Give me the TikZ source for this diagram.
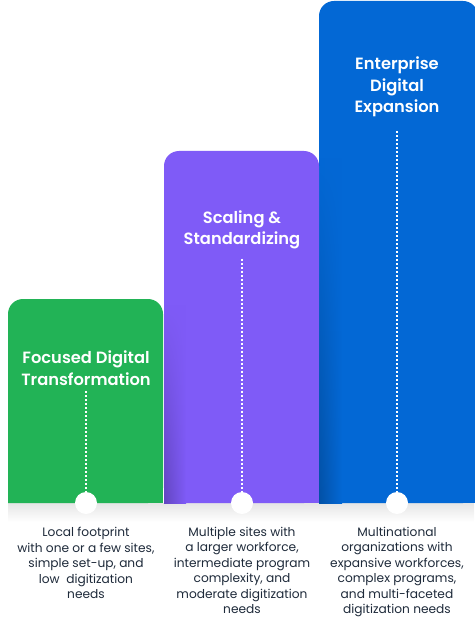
\documentclass[tikz,border=0pt]{standalone}
\usepackage{fontspec}
\setmainfont{Poppins}
\usetikzlibrary{fadings}
\definecolor{cgreen}{HTML}{22B356}
\definecolor{cpurple}{HTML}{7F5BF7}
\definecolor{cblue}{HTML}{0368D5}
\definecolor{ctext}{HTML}{1E2A3A}
\tikzset{
  bartitle/.style={text=white,font=\fontspec{Poppins SemiBold}\fontsize{16.3}{21.5}\selectfont,align=center,inner sep=0pt},
  desc/.style={text=ctext,font=\fontsize{12.2}{15.5}\selectfont,align=center,inner sep=0pt,anchor=north},
  dot/.style={circle,fill=white,minimum size=22pt,inner sep=0pt},
  dotline/.style={white,line width=1.2pt,dash pattern=on 2pt off 2pt},
}
\begin{document}
\begin{tikzpicture}[x=1pt,y=-1pt]
\useasboundingbox (0,0) rectangle (474,620);
\fill[white] (0,0) rectangle (474,620);
% bottom shadow
\shade[top color=black!10,bottom color=white] (8,503) rectangle (474,522);
% bars
\fill[cblue,rounded corners=15pt] (319,503) -- (319,1) -- (478,1) -- (478,503) [sharp corners]-- cycle;
\fill[cblue] (319,480) rectangle (478,503);
\fill[cpurple,rounded corners=15pt] (164,503) -- (164,151) -- (319,151) -- (319,503) [sharp corners]-- cycle;
\fill[cpurple] (164,480) rectangle (319,503);
\fill[cgreen,rounded corners=15pt] (8,503) -- (8,299) -- (163,299) -- (163,503) [sharp corners]-- cycle;
\fill[cgreen] (8,480) rectangle (163,503);
% side shadows
\shade[left color=cpurple!78!black,right color=cpurple,path fading=north] (164,305) rectangle (186,503);
\shade[left color=cblue!78!black,right color=cblue,path fading=north] (319,158) rectangle (342,503);
% titles
\node[bartitle] (t1) at (86,368) {Focused Digital\\Transformation};
\node[bartitle] (t2) at (242,230) {Scaling \&\\Standardizing};
\node[bartitle] (t3) at (397,87) {Enterprise\\Digital\\Expansion};
% circles
\node[dot] (c1) at (86,503) {};
\node[dot] (c2) at (242,503) {};
\node[dot] (c3) at (397,503) {};
% dotted connectors
\draw[dotline] ([yshift=-6pt]t1.south) -- (c1.center);
\draw[dotline] ([yshift=-9pt]t2.south) -- (c2.center);
\draw[dotline] ([yshift=-14pt]t3.south) -- (c3.center);
% descriptions
\node[desc] (d1) at (86,527) {Local footprint\\with one or a few sites,\\simple set-up, and\\low\ \ digitization\\needs};
\node[desc] (d2) at (242,527) {Multiple sites with\\a larger workforce,\\intermediate program\\complexity, and\\moderate digitization\\needs};
\node[desc] (d3) at (397,527) {Multinational\\organizations with\\expansive workforces,\\complex programs,\\and multi-faceted\\digitization needs};
\end{tikzpicture}
\end{document}
